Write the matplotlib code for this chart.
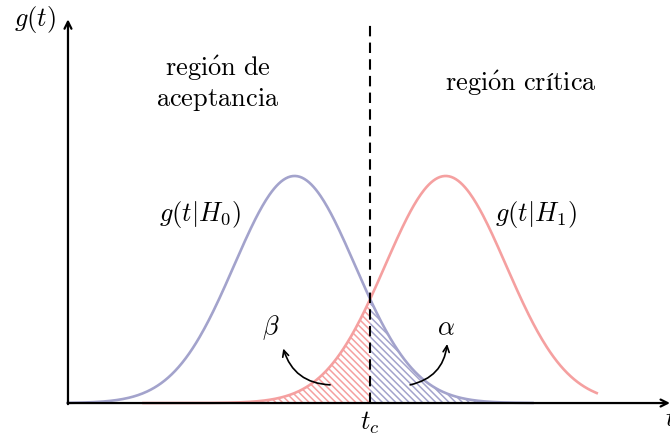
import numpy as np
import matplotlib
matplotlib.use("Agg")
import matplotlib.pyplot as plt

plt.rcParams['mathtext.fontset'] = 'cm'
plt.rcParams['hatch.linewidth'] = 1.1

# parametros de las dos hipotesis
mu0, mu1 = 3.0, 5.0
sigma = 0.8
t_crit = 4.0
rango_h0 = [0.0, 6.15]
rango_h1 = [1.0, 7.0]

azul = '#a3a3cc'
rojo = '#f5a0a0'


def g(t, mu):
    return np.exp(-0.5 * ((t - mu) / sigma) ** 2)


fig = plt.figure(figsize=(6.7, 4.38), dpi=100)
ax = fig.add_axes([0, 0, 1, 1])
ax.set_xlim(-0.9, 7.97)
ax.set_ylim(-0.154, 1.775)
ax.axis('off')

t0 = np.linspace(rango_h0[0], rango_h0[1], 400)
t1 = np.linspace(rango_h1[0], rango_h1[1], 400)
ax.plot(t0, g(t0, mu0), color=azul, lw=1.9, zorder=3)
ax.plot(t1, g(t1, mu1), color=rojo, lw=1.9, zorder=3)

# areas beta y alfa
tb = np.linspace(rango_h1[0], t_crit, 200)
ax.fill_between(tb, 0, g(tb, mu1), facecolor='none', edgecolor=rojo,
                hatch='\\\\\\\\\\', linewidth=0, zorder=2)
ta = np.linspace(t_crit, rango_h0[1], 200)
ax.fill_between(ta, 0, g(ta, mu0), facecolor='none', edgecolor=azul,
                hatch='\\\\\\\\\\', linewidth=0, zorder=2)

# ejes con flechas
ax.annotate('', xy=(7.97, 0), xytext=(-0.005, 0),
            arrowprops=dict(arrowstyle='->,head_length=0.5,head_width=0.25', lw=1.6, color='black',
                            shrinkA=0, shrinkB=0), zorder=5)
ax.annotate('', xy=(0, 1.69), xytext=(0, -0.005),
            arrowprops=dict(arrowstyle='->,head_length=0.5,head_width=0.25', lw=1.6, color='black',
                            shrinkA=0, shrinkB=0), zorder=5)
ax.plot([t_crit, t_crit], [0, 1.665], color='black', lw=1.5, ls=(0, (5, 3)), zorder=4)

fs = 19
ax.text(-0.44, 1.69, r'$g(t)$', fontsize=fs, ha='center', va='center')
ax.text(7.91, -0.015, r'$t$', fontsize=fs, ha='left', va='top')
ax.text(t_crit, -0.085, r'$t_c$', fontsize=fs, ha='center', va='center')
ax.text(1.98, 1.474, r'$\mathrm{regi\acute{o}n\ de}$', fontsize=fs, ha='center', va='center')
ax.text(1.98, 1.335, r'$\mathrm{aceptancia}$', fontsize=fs, ha='center', va='center')
ax.text(6.0, 1.41, r'$\mathrm{regi\acute{o}n\ crítica}$', fontsize=fs, ha='center', va='center')
ax.text(1.75, 0.83, r'$g(t|H_0)$', fontsize=fs, ha='center', va='center')
ax.text(6.2, 0.83, r'$g(t|H_1)$', fontsize=fs, ha='center', va='center')
ax.text(2.68, 0.33, r'$\beta$', fontsize=fs, ha='center', va='center')
ax.text(5.0, 0.33, r'$\alpha$', fontsize=fs, ha='center', va='center')

ax.annotate('', xy=(2.85, 0.24), xytext=(3.47, 0.08),
            arrowprops=dict(arrowstyle='->,head_length=0.45,head_width=0.22', lw=1.2, color='black',
                            connectionstyle='arc3,rad=-0.35', shrinkA=0, shrinkB=0))
ax.annotate('', xy=(5.02, 0.26), xytext=(4.53, 0.08),
            arrowprops=dict(arrowstyle='->,head_length=0.45,head_width=0.22', lw=1.2, color='black',
                            connectionstyle='arc3,rad=0.35', shrinkA=0, shrinkB=0))

fig.savefig('out.png', dpi=100)
